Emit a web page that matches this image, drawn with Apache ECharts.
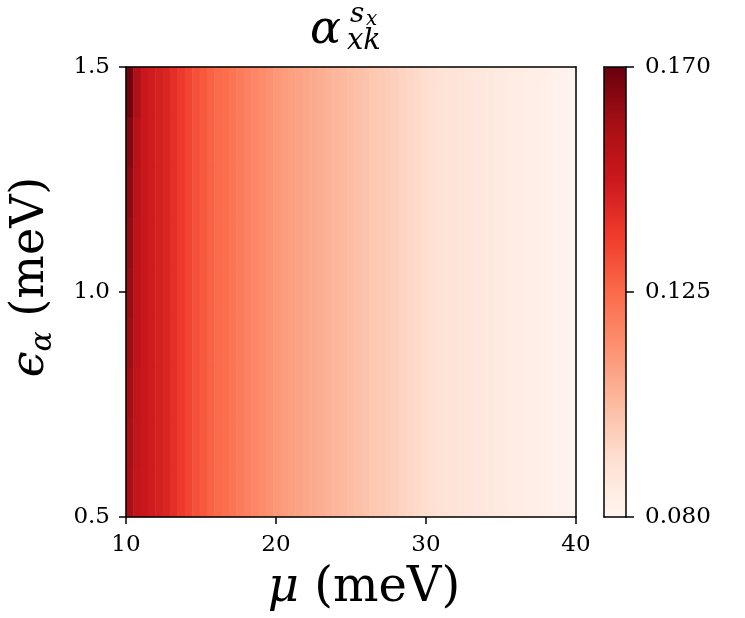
<!DOCTYPE html>
<html>
<head>
<meta charset="utf-8">
<script src="https://cdn.jsdelivr.net/npm/echarts@6/dist/echarts.min.js"></script>
<style>
  body { margin: 0; background: #fff; }
  #chart { width: 745px; height: 618px; }
</style>
</head>
<body>
<div id="chart"></div>
<script>
// mu grid (meV), 0.5 step
var muList = [10, 10.5, 11, 11.5, 12, 12.5, 13, 13.5, 14, 14.5, 15, 15.5, 16, 16.5, 17, 17.5, 18, 18.5, 19, 19.5,
  20, 20.5, 21, 21.5, 22, 22.5, 23, 23.5, 24, 24.5, 25, 25.5, 26, 26.5, 27, 27.5, 28, 28.5, 29, 29.5,
  30, 30.5, 31, 31.5, 32, 32.5, 33, 33.5, 34, 34.5, 35, 35.5, 36, 36.5, 37, 37.5, 38, 38.5, 39, 39.5, 40];
// epsilon grid (meV), bottom to top
var epsList = [0.5, 0.625, 0.75, 0.875, 1.0, 1.125, 1.25, 1.375, 1.5];
// value along mu, read from the middle row
var rowProfile = [0.161, 0.152, 0.148, 0.1465, 0.145, 0.143, 0.140, 0.137, 0.134, 0.131,
  0.129, 0.127, 0.125, 0.1235, 0.122, 0.120, 0.1185, 0.117, 0.1155, 0.114,
  0.1125, 0.111, 0.110, 0.109, 0.108, 0.107, 0.106, 0.105, 0.104, 0.103,
  0.102, 0.101, 0.100, 0.099, 0.098, 0.097, 0.096, 0.095, 0.094, 0.093,
  0.092, 0.091, 0.090, 0.0895, 0.089, 0.0885, 0.088, 0.0875, 0.087, 0.0865,
  0.086, 0.0855, 0.085, 0.0845, 0.084, 0.0835, 0.083, 0.0825, 0.082, 0.0815, 0.081];
// left edge (mu = 10 and 10.5) changes with epsilon
var edgeMu10 = [0.157, 0.158, 0.159, 0.160, 0.161, 0.162, 0.163, 0.165, 0.168];
var edgeMu105 = [0.150, 0.151, 0.151, 0.152, 0.152, 0.152, 0.153, 0.154, 0.156];
// colorbar ticks
var cbTicks = [0.080, 0.125, 0.170];
var redsColors = ['#fff5f0', '#fee0d2', '#fcbba1', '#fc9272', '#fb6a4a', '#ef3b2c', '#cb181d', '#a50f15', '#67000d'];

var heatData = [];
for (var j = 0; j < epsList.length; j++) {
  for (var i = 0; i < muList.length; i++) {
    var v = rowProfile[i];
    if (i === 0) v = edgeMu10[j];
    if (i === 1) v = edgeMu105[j];
    heatData.push([i, j, v]);
  }
}

var font = 'DejaVu Serif';
var chart = echarts.init(document.getElementById('chart'));
var frameLine = { show: true, onZero: false, lineStyle: { color: '#000', width: 1.5 } };
var tickFont = { color: '#000', fontFamily: font, fontSize: 23 };

var option = {
  animation: false,
  backgroundColor: '#fff',
  grid: [
    { left: 124, top: 67, width: 452, height: 450 },
    { left: 604, top: 67, width: 22, height: 450 }
  ],
  xAxis: [
    { type: 'category', data: muList, gridIndex: 0, show: false },
    { // bottom mu axis
      type: 'value', gridIndex: 0, position: 'bottom', min: 10, max: 40, interval: 10, z: 10,
      axisLine: frameLine,
      axisTick: { show: true, length: 7, lineStyle: { color: '#000', width: 1.5 } },
      axisLabel: Object.assign({ margin: 17 }, tickFont),
      splitLine: { show: false },
      name: '{i|μ} (meV)', nameLocation: 'middle', nameGap: 48,
      nameTextStyle: {
        color: '#000', fontFamily: font, fontSize: 48, padding: [0, 0, 0, 26],
        rich: { i: { fontFamily: font, fontSize: 48, fontStyle: 'italic', color: '#000' } }
      }
    },
    { type: 'value', gridIndex: 0, position: 'top', min: 10, max: 40, z: 10,
      axisLine: frameLine, axisTick: { show: false }, axisLabel: { show: false }, splitLine: { show: false } },
    { type: 'value', gridIndex: 1, position: 'bottom', min: 0, max: 1, z: 10,
      axisLine: frameLine, axisTick: { show: false }, axisLabel: { show: false }, splitLine: { show: false } },
    { type: 'value', gridIndex: 1, position: 'top', min: 0, max: 1, z: 10,
      axisLine: frameLine, axisTick: { show: false }, axisLabel: { show: false }, splitLine: { show: false } }
  ],
  yAxis: [
    { type: 'category', data: epsList, gridIndex: 0, show: false },
    { // left epsilon axis
      type: 'value', gridIndex: 0, position: 'left', min: 0.5, max: 1.5, interval: 0.5, z: 10,
      axisLine: frameLine,
      axisTick: { show: true, length: 7, lineStyle: { color: '#000', width: 1.5 } },
      axisLabel: Object.assign({ margin: 16, formatter: function (v) { return v.toFixed(1); } }, tickFont),
      splitLine: { show: false },
      name: '{e|ϵ}{s|α} (meV)', nameLocation: 'middle', nameGap: 68, nameRotate: 90,
      nameTextStyle: {
        color: '#000', fontFamily: font, fontSize: 46, padding: [0, 0, 0, 30],
        rich: {
          e: { fontFamily: font, fontSize: 46, fontStyle: 'italic', color: '#000' },
          s: { fontFamily: font, fontSize: 30, fontStyle: 'italic', color: '#000', padding: [24, 0, 0, 0] }
        }
      }
    },
    { type: 'value', gridIndex: 0, position: 'right', min: 0.5, max: 1.5, z: 10,
      axisLine: frameLine, axisTick: { show: false }, axisLabel: { show: false }, splitLine: { show: false } },
    { type: 'value', gridIndex: 1, position: 'left', min: 0.08, max: 0.17, z: 10,
      axisLine: frameLine, axisTick: { show: false }, axisLabel: { show: false }, splitLine: { show: false } },
    { // colorbar scale
      type: 'value', gridIndex: 1, position: 'right', min: 0.08, max: 0.17, z: 10,
      axisLine: frameLine,
      axisTick: { show: true, length: 8, customValues: cbTicks, lineStyle: { color: '#000', width: 1.5 } },
      axisLabel: Object.assign({ margin: 19, customValues: cbTicks,
        formatter: function (v) { return v.toFixed(3); } }, tickFont),
      splitLine: { show: false }
    }
  ],
  visualMap: {
    type: 'continuous', seriesIndex: 0, min: 0.08, max: 0.17,
    calculable: false, hoverLink: false, realtime: false,
    left: 604, top: 67, itemWidth: 22, itemHeight: 450, padding: 0,
    orient: 'vertical', text: null,
    inRange: { color: redsColors }
  },
  graphic: [
    { type: 'text', left: 310, top: 8, style: { text: 'α', font: 'italic 46px "DejaVu Serif"', fill: '#000' } },
    { type: 'text', left: 350, top: 1, style: { text: 's', font: 'italic 28px "DejaVu Serif"', fill: '#000' } },
    { type: 'text', left: 366, top: 10, style: { text: 'x', font: 'italic 20px "DejaVu Serif"', fill: '#000' } },
    { type: 'text', left: 347, top: 27, style: { text: 'xk', font: 'italic 29px "DejaVu Serif"', fill: '#000' } }
  ],
  series: [
    {
      type: 'heatmap',
      xAxisIndex: 0,
      yAxisIndex: 0,
      data: heatData,
      progressive: 0,
      emphasis: { disabled: true }
    }
  ]
};
chart.setOption(option);
</script>
</body>
</html>
